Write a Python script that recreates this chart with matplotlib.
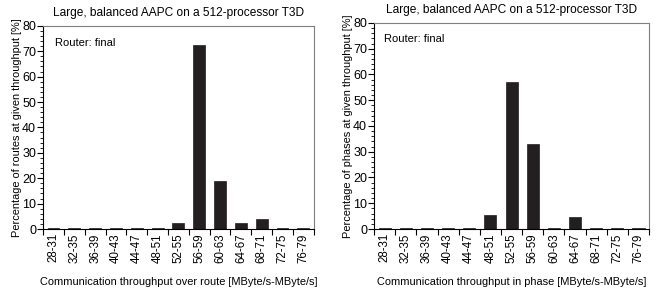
import numpy as np
import matplotlib
matplotlib.use('Agg')
import matplotlib.pyplot as plt
from matplotlib.ticker import MultipleLocator

plt.rcParams['font.family'] = ['Liberation Sans', 'DejaVu Sans']

bins = ['28-31', '32-35', '36-39', '40-43', '44-47', '48-51', '52-55',
        '56-59', '60-63', '64-67', '68-71', '72-75', '76-79']
routes = [0.2, 0.2, 0.2, 0.2, 0.2, 0.2, 2.2, 72.5, 19.0, 2.3, 3.8, 0.4, 0.2]
phases = [0.2, 0.2, 0.2, 0.2, 0.2, 5.3, 57.2, 33.0, 0.3, 4.6, 0.2, 0.2, 0.2]

title = 'Large, balanced AAPC on a 512-processor T3D'
bar_col = '#231f20'

fig = plt.figure(figsize=(6.62, 2.89), dpi=100)
ax1 = fig.add_axes([0.065, 0.2076, 0.409, 0.703])
ax2 = fig.add_axes([0.565, 0.2076, 0.4155, 0.713])


def draw(ax, vals, ylab, xlab, note_xy):
    x = np.arange(len(bins))
    ax.bar(x, vals, width=0.57, color=bar_col, edgecolor=bar_col, linewidth=0.5)
    ax.set_xlim(-0.5, len(bins) - 0.5)
    ax.set_ylim(0, 80)
    ax.yaxis.set_major_locator(MultipleLocator(10))
    ax.yaxis.set_minor_locator(MultipleLocator(2))
    ax.set_xticks(x)
    ax.set_xticklabels(bins, rotation=90, fontsize=8.3)
    ax.set_xticks(np.arange(len(bins) + 1) - 0.5, minor=True)
    ax.tick_params(axis='x', which='major', length=0, pad=3)
    ax.tick_params(axis='x', which='minor', length=4, width=0.8, direction='out')
    ax.tick_params(axis='y', which='major', length=4, width=0.8, labelsize=9, pad=1)
    ax.tick_params(axis='y', which='minor', length=2, width=0.6)
    for s in ['top', 'right']:
        ax.spines[s].set_color('#7f7f7f')
    ax.spines['left'].set_linewidth(0.8)
    ax.spines['bottom'].set_linewidth(0.8)
    ax.set_title(title, fontsize=8.6, pad=7)
    ax.set_ylabel(ylab, fontsize=7.9, labelpad=0)
    ax.set_xlabel(xlab, fontsize=7.9, labelpad=10)
    ax.text(note_xy[0], note_xy[1], 'Router: final', transform=ax.transAxes,
            fontsize=8, va='center', ha='left')


draw(ax1, routes, 'Percentage of routes at given throughput [%]',
     'Communication throughput over route [MByte/s-MByte/s]', (0.045, 0.915))
draw(ax2, phases, 'Percentage of phases at given throughput [%]',
     'Communication throughput in phase [MByte/s-MByte/s]', (0.036, 0.92))

fig.savefig('out.png', dpi=100)
